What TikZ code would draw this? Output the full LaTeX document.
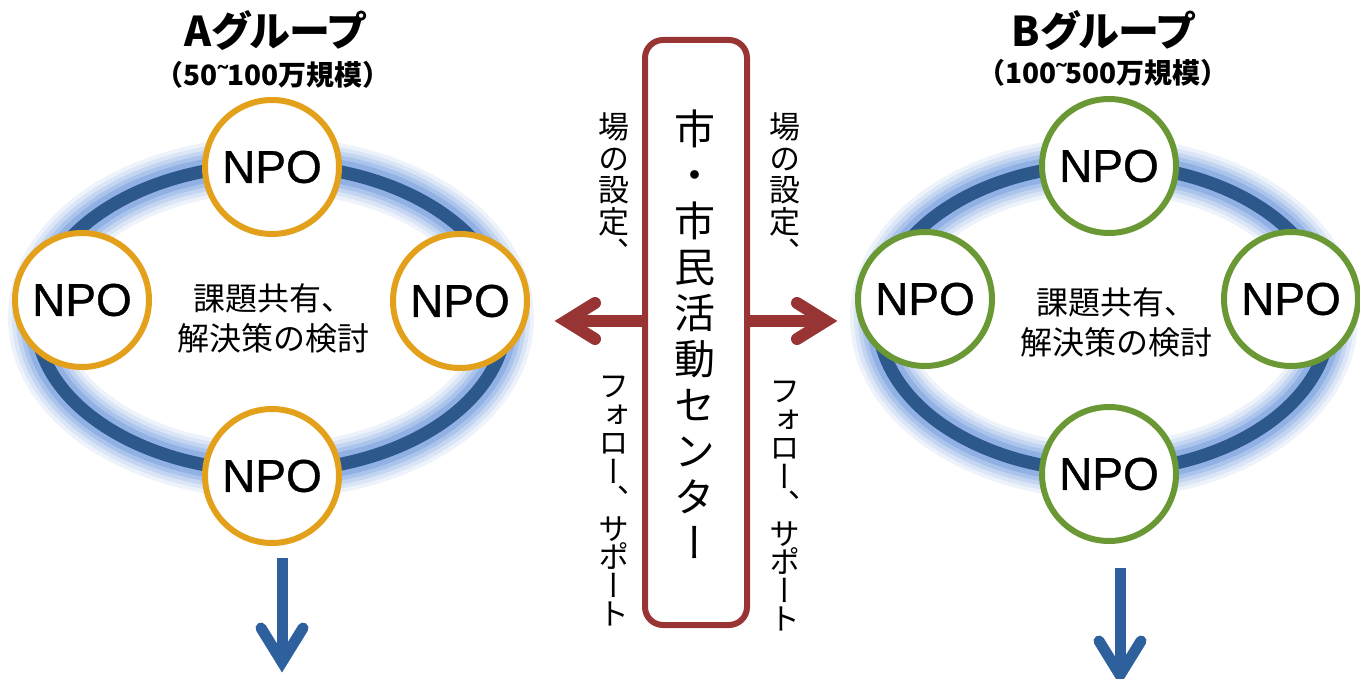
\documentclass[tikz,border=0pt]{standalone}
\usepackage{fontspec}
\setmainfont{Liberation Sans}
\newfontfamily\npofont{Liberation Sans}[FakeBold=0.8]
\newfontfamily\jp{Noto Sans CJK JP}
\newfontfamily\jpv{Noto Sans CJK JP}[RawFeature=+vert]
\newfontfamily\jpp{Noto Sans CJK JP}[RawFeature=+palt]
\definecolor{ringblue}{RGB}{44,88,140}
\definecolor{glowblue}{RGB}{85,135,215}
\definecolor{npoorange}{RGB}{227,161,27}
\definecolor{npogreen}{RGB}{106,152,52}
\definecolor{boxred}{RGB}{152,52,52}
\definecolor{arrowblue}{RGB}{46,96,158}
\tikzset{
  npo/.style={circle, fill=white, line width=6pt, minimum size=134pt, inner sep=0pt,
    font=\npofont\fontsize{46}{46}\selectfont},
  npoA/.style={npo, draw=npoorange},
  npoB/.style={npo, draw=npogreen},
  ringline/.style={draw=ringblue, line width=13pt},
  topic/.style={font=\jp\fontsize{32}{40}\selectfont, align=center, inner sep=0pt},
  titlebig/.style={font=\jpp\bfseries\fontsize{41}{41}\selectfont, inner sep=0pt},
  titlesmall/.style={font=\jp\bfseries\fontsize{28}{28}\selectfont, inner sep=0pt},
  vlab/.style={font=\jpv\fontsize{31}{#1}\selectfont, align=center, inner sep=0pt, anchor=north},
  vcenter/.style={font=\jpv\fontsize{41}{46}\selectfont, align=center, inner sep=0pt, anchor=north},
  centerbox/.style={draw=boxred, line width=6pt, rounded corners=18pt, fill=white,
    minimum width=102pt, minimum height=585pt, inner sep=0pt},
  redshaft/.style={draw=boxred, line width=12pt},
  redhead/.style={draw=boxred, line width=12pt, line cap=round, line join=miter},
  blueshaft/.style={draw=arrowblue, line width=11pt},
  bluehead/.style={draw=arrowblue, line width=11pt, line cap=round, line join=miter},
}
\newcommand\smtilde{{\rmfamily\bfseries ˜}}
\begin{document}
\begin{tikzpicture}[x=1pt,y=-1pt]
\useasboundingbox (0,0) rectangle (1360,679);

% ---------- rings with glow ----------
\foreach \w/\o in {56/0.10,48/0.13,40/0.17,32/0.22,24/0.3} {
  \draw[glowblue, line width=\w pt, draw opacity=\o] (271,318) ellipse [x radius=235pt, y radius=153pt];
  \draw[glowblue, line width=\w pt, draw opacity=\o] (1104,318) ellipse [x radius=226pt, y radius=153pt];
}
\draw[ringline] (271,318) ellipse [x radius=235pt, y radius=153pt];
\draw[ringline] (1104,318) ellipse [x radius=226pt, y radius=153pt];

% ---------- group A ----------
\node[titlebig] (ta) at (275,31) {Aグループ};
\node[titlesmall] (sa) at (273,75) {（50\smtilde100万規模）};
\node[npoA] (a1) at (272,167) {NPO};
\node[npoA] (a2) at (82,300) {NPO};
\node[npoA] (a3) at (460,301) {NPO};
\node[npoA] (a4) at (272,476) {NPO};
\node[topic] (atx) at (273,318) {課題共有、\\解決策の検討};

% ---------- group B ----------
\node[titlebig] (tb) at (1103,31) {Bグループ};
\node[titlesmall] (sb) at (1103,73) {（100\smtilde500万規模）};
\node[npoB] (b1) at (1109,166) {NPO};
\node[npoB] (b2) at (925,299) {NPO};
\node[npoB] (b3) at (1291,299) {NPO};
\node[npoB] (b4) at (1109,474) {NPO};
\node[topic] (btx) at (1116,322) {課題共有、\\解決策の検討};

% ---------- center box ----------
\node[centerbox] (ctr) at (696,332.5) {};
\node[vcenter] (ctrtxt) at (695,110) {市\\・\\市\\民\\活\\動\\セ\\ン\\タ\\ー};

\node[vlab=31.5] (l1) at (614,113) {場\\の\\設\\定\\、};
\node[vlab=28.5] (l2) at (614,376) {フ\\ォ\\ロ\\ー\\、\\サ\\ポ\\ー\\ト};
\node[vlab=31.5] (r1) at (785,113) {場\\の\\設\\定\\、};
\node[vlab=28.5] (r2) at (785,381) {フ\\ォ\\ロ\\ー\\、\\サ\\ポ\\ー\\ト};

% ---------- red arrows ----------
\coordinate (lv) at (566,321);
\coordinate (la1) at (595,303);
\coordinate (la2) at (595,339);
\coordinate (rv) at (826,321);
\coordinate (ra1) at (797,303);
\coordinate (ra2) at (797,339);
\draw[redshaft] (ctr.west |- lv) -- (lv);
\draw[redhead] (la1) -- (lv) -- (la2);
\draw[redshaft] (ctr.east |- rv) -- (rv);
\draw[redhead] (ra1) -- (rv) -- (ra2);

% ---------- blue down arrows ----------
\coordinate (at) at (282,558);
\coordinate (av) at (282,662);
\coordinate (al) at (261,628);
\coordinate (ar) at (303,628);
\draw[blueshaft] (at) -- (av);
\draw[bluehead] (al) -- (av) -- (ar);

\coordinate (bt) at (1120,568);
\coordinate (bv) at (1120,675);
\coordinate (bl) at (1099,641);
\coordinate (br) at (1141,641);
\draw[blueshaft] (bt) -- (bv);
\draw[bluehead] (bl) -- (bv) -- (br);
\end{tikzpicture}
\end{document}
